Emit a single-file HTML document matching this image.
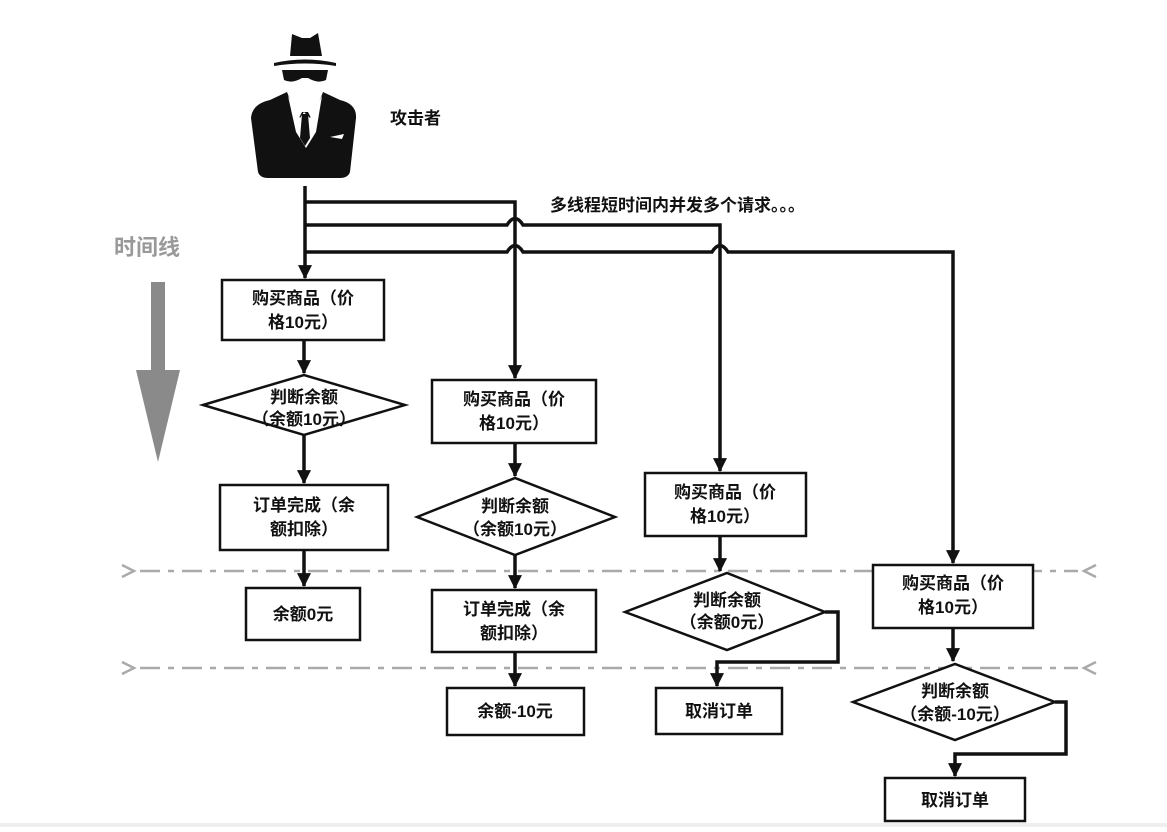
<!DOCTYPE html>
<html><head><meta charset="utf-8"><style>
html,body{margin:0;padding:0;background:#fff}
svg text{font-family:"Liberation Sans","Noto Sans CJK SC",sans-serif;font-weight:bold;font-size:17px;fill:#111}
</style></head><body>
<svg width="1167" height="827" viewBox="0 0 1167 827" xmlns="http://www.w3.org/2000/svg">
<defs>
<marker id="ah" viewBox="0 0 12 12" markerWidth="14" markerHeight="14" refX="11" refY="6" orient="auto" markerUnits="userSpaceOnUse"><path d="M0,0 L12,6 L0,12 Z" fill="#111"/></marker></defs>
<!-- figure -->
<g fill="#111">
<path d="M292,34 L302,38 L310,38 L318,33 L322,56 L290,56 Z"/>
<path d="M274,63 Q305,56 336,63 L336,66 Q305,61 274,66Z"/>
<path d="M282,70 L328,70 L326,80 Q318,84 308,78 L302,78 Q292,84 284,80Z"/>
<path d="M251,118 Q252,104 270,100 L287,92 L298,120 L302,112 L308,112 L312,120 L323,92 L340,100 Q357,104 356,118 L350,172 Q348,178 340,178 L268,178 Q260,178 258,172Z"/>
</g>
<path d="M288,96 L300,118 L304,112 L310,118 L322,96 L316,132 L306,148 L296,132Z" fill="#fff"/>
<path d="M302,114 L308,114 L310,138 L305,146 L300,138Z" fill="#111"/>
<path d="M330,137 L344,134 L342,139 Z" fill="#fff"/>
<text x="390" y="124">攻击者</text>
<text x="550" y="211">多线程短时间内并发多个请求。。。</text>
<text x="114" y="255" style="fill:#999;font-size:22px">时间线</text>
<!-- time arrow -->
<rect x="151" y="282" width="14" height="92" fill="#8a8a8a"/>
<path d="M136,370 L180,370 L158,462Z" fill="#8a8a8a"/>
<!-- dashed lines -->
<g stroke="#aaa" stroke-width="2.5" fill="none">
<line x1="140" y1="571" x2="1078" y2="571" stroke-dasharray="20 8 6 8"/>
<line x1="140" y1="668" x2="1078" y2="668" stroke-dasharray="20 8 6 8"/>
<path d="M122,565 L134,571 L122,577"/><path d="M1096,565 L1084,571 L1096,577"/>
<path d="M122,662 L134,668 L122,674"/><path d="M1096,662 L1084,668 L1096,674"/>
</g>
<!-- connectors -->
<g stroke="#111" stroke-width="3.5" fill="none" stroke-linejoin="miter">
<path d="M305,186 L305,278" marker-end="url(#ah)"/>
<path d="M305,202 L515,202 L515,378" marker-end="url(#ah)"/>
<path d="M305,225 L507,225 Q515,212 523,225 L720,225 L720,471" marker-end="url(#ah)"/>
<path d="M305,252 L507,252 Q515,239 523,252 L712,252 Q720,239 728,252 L953,252 L953,563" marker-end="url(#ah)"/>
<path d="M304,340 L304,373" marker-end="url(#ah)"/>
<path d="M304,435 L304,483" marker-end="url(#ah)"/>
<path d="M304,550 L304,586" marker-end="url(#ah)"/>
<path d="M515,443 L515,476" marker-end="url(#ah)"/>
<path d="M515,555 L515,588" marker-end="url(#ah)"/>
<path d="M515,652 L515,686" marker-end="url(#ah)"/>
<path d="M720,536 L720,571" marker-end="url(#ah)"/>
<path d="M825,612 L838,612 L838,662 L717,662 L717,686" marker-end="url(#ah)"/>
<path d="M953,628 L953,661" marker-end="url(#ah)"/>
<path d="M1055,702 L1066,702 L1066,754 L955,754 L955,776" marker-end="url(#ah)"/>
</g>
<!-- shapes -->
<g stroke="#111" stroke-width="2.5" fill="#fff">
<rect x="222" y="280" width="162" height="60"/>
<path d="M203,405 L304,375 L405,405 L304,435Z"/>
<rect x="220" y="485" width="168" height="65"/>
<rect x="246" y="588" width="114" height="52"/>
<rect x="432" y="380" width="164" height="63"/>
<path d="M417,517 L515,478 L615,517 L515,555Z"/>
<rect x="432" y="590" width="164" height="62"/>
<rect x="447" y="688" width="137" height="47"/>
<rect x="645" y="473" width="161" height="63"/>
<path d="M625,612 L727,573 L825,612 L727,650Z"/>
<rect x="656" y="688" width="126" height="46"/>
<rect x="873" y="565" width="160" height="63"/>
<path d="M853,702 L955,664 L1055,702 L955,740Z"/>
<rect x="885" y="778" width="140" height="43"/>
</g>
<rect x="0" y="823" width="1167" height="4" fill="#eeeeee"/>
<g text-anchor="middle">
<text x="303" y="304">购买商品（价</text><text x="303" y="328">格10元）</text>
<text x="304" y="403">判断余额</text><text x="304" y="425">（余额10元）</text>
<text x="304" y="511">订单完成（余</text><text x="304" y="535">额扣除）</text>
<text x="303" y="620">余额0元</text>
<text x="514" y="405">购买商品（价</text><text x="514" y="429">格10元）</text>
<text x="515" y="512">判断余额</text><text x="515" y="535">（余额10元）</text>
<text x="514" y="615">订单完成（余</text><text x="514" y="639">额扣除）</text>
<text x="515" y="717">余额-10元</text>
<text x="725" y="498">购买商品（价</text><text x="725" y="522">格10元）</text>
<text x="727" y="606">判断余额</text><text x="727" y="628">（余额0元）</text>
<text x="719" y="717">取消订单</text>
<text x="953" y="589">购买商品（价</text><text x="953" y="613">格10元）</text>
<text x="955" y="697">判断余额</text><text x="955" y="720">（余额-10元）</text>
<text x="955" y="806">取消订单</text>
</g>
</svg>
</body></html>
